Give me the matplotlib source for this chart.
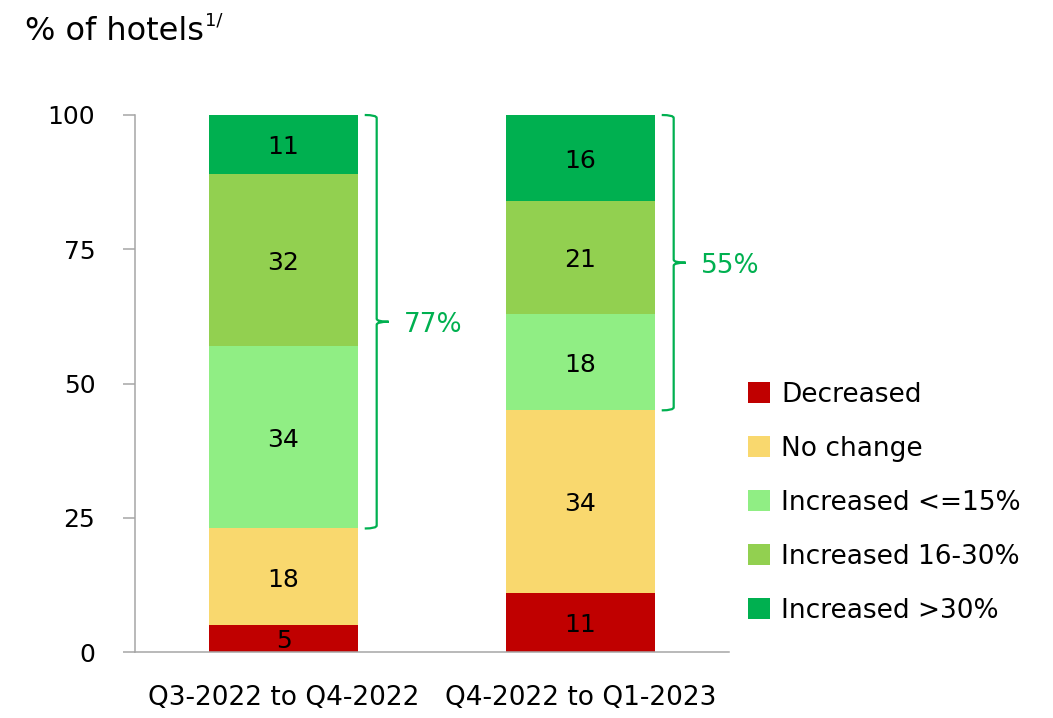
import numpy as np
import matplotlib
matplotlib.use("Agg")
import matplotlib.pyplot as plt
from matplotlib.patches import Patch, PathPatch
from matplotlib.path import Path

# Hotel room-rate change shares per period
periods = ["Q3-2022 to Q4-2022", "Q4-2022 to Q1-2023"]
series_names = ["Decreased", "No change", "Increased <=15%", "Increased 16-30%", "Increased >30%"]
decreased = [5, 11]
no_change = [18, 34]
inc_upto_15 = [34, 18]
inc_16_30 = [32, 21]
inc_over_30 = [11, 16]

colors = ["#C00000", "#F9D86E", "#90EE84", "#92D050", "#00B050"]
brace_color = "#00B050"

plt.rcParams['font.family'] = ['DejaVu Sans']

fig = plt.figure(figsize=(10.53, 7.18), dpi=100)
ax = fig.add_axes([135 / 1053, 66 / 718, 594 / 1053, 537 / 718])

x = np.arange(len(periods))
width = 0.5
stacks = [decreased, no_change, inc_upto_15, inc_16_30, inc_over_30]
bottom = np.zeros(len(periods))
for vals, col, name in zip(stacks, colors, series_names):
    vals = np.array(vals, dtype=float)
    ax.bar(x, vals, width, bottom=bottom, color=col, label=name, zorder=2)
    for xi, b, v in zip(x, bottom, vals):
        ax.text(xi, b + v / 2 - 0.5, f"{v:.0f}", ha="center", va="center",
                fontsize=18, color="black", zorder=3)
    bottom += vals

ax.set_xlim(-0.5, 1.5)
ax.set_ylim(0, 100)
ax.set_yticks([0, 25, 50, 75, 100])
ax.set_xticks(x)
ax.set_xticklabels(periods, fontsize=19)
ax.tick_params(axis="x", length=0, pad=24)
ax.tick_params(axis="y", length=8.6, width=1.1, color="#A6A6A6", pad=20, labelsize=18)
for side in ["top", "right"]:
    ax.spines[side].set_visible(False)
for side in ["left", "bottom"]:
    ax.spines[side].set_color("#A6A6A6")
    ax.spines[side].set_linewidth(1.1)

# Curly brackets spanning the "increased" segments
ux = width / 149.0   # data units per pixel, x
uy = 100 / 537.0     # data units per pixel, y
base = np.array(decreased) + np.array(no_change)
increased_total = np.array(inc_upto_15) + np.array(inc_16_30) + np.array(inc_over_30)
for xi, y0, tot in zip(x, base, increased_total):
    y1 = y0 + tot
    ym = (y0 + y1) / 2
    x0 = xi + width / 2 + 7 * ux
    x1 = x0 + 12 * ux
    xt = x1 + 12 * ux
    r = 3 * uy
    verts = [
        (x0, y1), (x1, y1), (x1, y1 - r),
        (x1, ym + r),
        (x1, ym), (xt, ym),
        (x0, y0), (x1, y0), (x1, y0 + r),
        (x1, ym - r),
        (x1, ym), (xt, ym),
    ]
    codes = [
        Path.MOVETO, Path.CURVE3, Path.CURVE3,
        Path.LINETO,
        Path.CURVE3, Path.CURVE3,
        Path.MOVETO, Path.CURVE3, Path.CURVE3,
        Path.LINETO,
        Path.CURVE3, Path.CURVE3,
    ]
    ax.add_patch(PathPatch(Path(verts, codes), fill=False, edgecolor=brace_color,
                           linewidth=1.6, clip_on=False, zorder=3))
    ax.text(xt + 15 * ux, ym - 0.6, f"{tot:.0f}%", ha="left", va="center",
            fontsize=19, color=brace_color, clip_on=False)

# Legend on the right
handles = [Patch(facecolor=c, label=n) for c, n in zip(colors, series_names)]
fig.legend(handles=handles, loc="upper left", bbox_to_anchor=(748 / 1053, 1 - 382 / 718),
           frameon=False, fontsize=19, handlelength=0.85, handleheight=0.85,
           handletextpad=0.4, labelspacing=1.06, borderpad=0, borderaxespad=0)

# Axis title with superscript note marker
title = fig.text(25 / 1053, 1 - 40 / 718, "% of hotels", fontsize=23,
                 ha="left", va="baseline")
ax.annotate("1/", xy=(1, 1), xycoords=title, xytext=(1, 3), textcoords="offset points",
            fontsize=13, ha="left", va="top", annotation_clip=False)

fig.savefig("out.png", dpi=100)
